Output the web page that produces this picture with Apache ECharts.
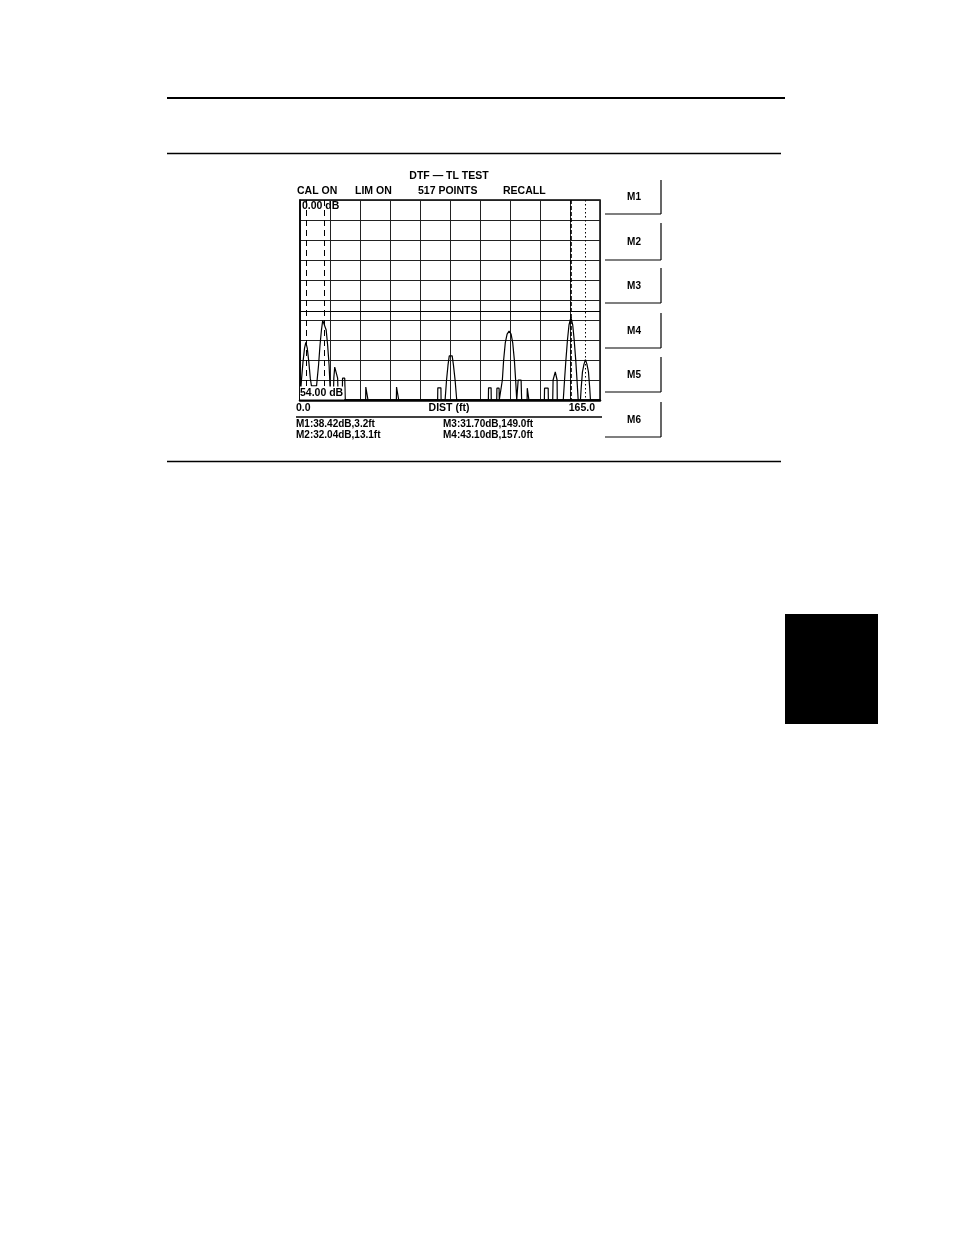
<!DOCTYPE html>
<html>
<head>
<meta charset="utf-8">
<script src="https://cdn.jsdelivr.net/npm/echarts@6/dist/echarts.min.js"></script>
<style>
html,body{margin:0;padding:0;background:#fff;}
#chart{width:954px;height:1235px;}
</style>
</head>
<body>
<div id="chart"></div>
<script>
// ---- data ----
const chartTitle = 'DTF \u2014 TL TEST';
const statusLabels = ['CAL ON', 'LIM ON', '517 POINTS', 'RECALL'];
const buttonLabels = ['M1', 'M2', 'M3', 'M4', 'M5', 'M6'];
const axisTopLabel = '0.00 dB';
const axisBottomLabel = '54.00 dB';
const xStartLabel = '0.0';
const xEndLabel = '165.0';
const xAxisName = 'DIST (ft)';
const markerNames = ['M1', 'M2', 'M3', 'M4'];
const markerDb = [38.42, 32.04, 31.70, 43.10];
const markerDist = [3.2, 13.1, 149.0, 157.0];
const limitDb = 30;

// trace (distance ft, return loss dB)
const traceDist = [0, 0.2, 0.8, 1.65, 2.5, 3.2, 4.0, 4.85, 5.65, 6.3, 9.1,
  9.45, 10.2, 11.0, 11.8, 12.5, 13.1, 13.6, 14.4, 15.2, 16.0, 16.6, 16.9,
  18.3, 18.6, 19.1, 19.6, 20.2, 20.7, 21.0,
  23.2, 23.4, 24.0, 24.6, 24.9,
  36.1, 36.2, 37.3, 37.4,
  53.0, 53.1, 54.2, 54.3,
  75.7, 75.8, 77.5, 77.6,
  79.8, 80.6, 81.4, 82.1, 82.9, 83.7, 84.4, 85.3, 86.2,
  103.6, 103.7, 105.1, 105.2,
  108.2, 108.3, 109.5, 109.6,
  110.6, 111.3, 112.0, 112.9, 113.9, 115.0, 116.1, 117.0, 117.9, 118.6, 119.2,
  119.7, 120.0, 120.8, 121.6, 121.9,
  124.9, 125.0, 125.8, 125.9,
  134.4, 134.5, 136.5, 136.6,
  139.0, 139.2, 140.1, 140.4, 141.0, 141.4, 141.5,
  144.8, 145.5, 146.25, 147.1, 147.95, 149.0, 150.0, 150.8, 151.65, 152.35, 153.0,
  154.25, 154.65, 155.35, 156.2, 157.0, 157.8, 158.65, 159.35, 159.75,
  165];
const traceDb = [54, 54, 48.6, 43.7, 40.0, 38.42, 40.0, 43.7, 48.1, 50.2, 50.2,
  50.2, 44.6, 39.2, 35.1, 32.5, 32.04, 32.5, 35.1, 39.2, 44.6, 51.3, 54,
  54, 48.1, 45.1, 44.6, 45.1, 48.1, 54,
  54, 48.1, 47.7, 48.1, 54,
  54, 50.5, 50.5, 54,
  54, 50.5, 50.5, 54,
  54, 50.7, 50.7, 54,
  54, 48.6, 44.6, 42.1, 42.0, 42.1, 44.6, 48.6, 54,
  54, 50.7, 50.7, 54,
  54, 50.8, 50.8, 54,
  54, 48.6, 43.2, 38.6, 36.2, 35.4, 36.2, 38.6, 43.2, 48.6, 54,
  54, 48.6, 48.2, 48.6, 54,
  54, 50.8, 50.8, 54,
  54, 50.8, 50.8, 54,
  54, 48.6, 48.6, 46.4, 46.3, 48.6, 54,
  54, 48.6, 43.2, 37.8, 33.75, 31.7, 33.75, 37.8, 43.2, 48.6, 54,
  54, 50.8, 46.4, 44.3, 43.1, 44.3, 46.4, 50.8, 54,
  54];

// ---- build ----
const FONT = "'Liberation Sans Narrow', 'Liberation Sans', Arial, sans-serif";
const trace = traceDist.map((d, i) => [d, traceDb[i]]);
const markerStyles = [
  {type: [6, 4], width: 1},
  {type: [6, 4], width: 1},
  {type: [4, 2], width: 1.6},
  {type: [1.5, 2.5], width: 1}
];
function txt(x, y, text, align, size) {
  return {type: 'text', z: 100, style: {x: x, y: y, text: text, fill: '#000',
    font: 'bold ' + (size || 11) + 'px ' + FONT, textAlign: align || 'left', textVerticalAlign: 'middle'}};
}
function ln(x1, y1, x2, y2, w) {
  return {type: 'line', z: 100, shape: {x1: x1, y1: y1, x2: x2, y2: y2}, style: {stroke: '#000', lineWidth: w || 1}};
}
const graphics = [];
// page rules and tab
graphics.push(ln(167, 98, 785, 98, 2));
graphics.push(ln(167, 153.5, 781, 153.5, 1.5));
graphics.push(ln(167, 461.5, 781, 461.5, 1.5));
graphics.push({type: 'rect', z: 100, shape: {x: 785, y: 614, width: 93, height: 110}, style: {fill: '#000'}});
// header texts
graphics.push(txt(449, 176, chartTitle, 'center', 10.5));
const statusX = [297, 355, 418, 503];
statusLabels.forEach((s, i) => graphics.push(txt(statusX[i], 191, s, 'left', 10.5)));
// axis texts
graphics.push(txt(302, 206, axisTopLabel, 'left', 10.5));
graphics.push({type: 'text', z: 100, style: {x: 300, y: 393, text: axisBottomLabel, fill: '#000',
  font: 'bold 10.5px ' + FONT, textAlign: 'left', textVerticalAlign: 'middle', backgroundColor: '#fff', padding: [1, 1, 1, 0]}});
graphics.push(txt(296, 408, xStartLabel, 'left', 10.5));
graphics.push(txt(449, 408, xAxisName, 'center', 10.5));
graphics.push(txt(595, 408, xEndLabel, 'right', 10.5));
graphics.push(ln(296, 417, 602, 417, 1.5));
// marker readouts
const readX = [296, 296, 443, 443];
const readY = [424, 435, 424, 435];
markerNames.forEach((m, i) => {
  graphics.push(txt(readX[i], readY[i], m + ':' + markerDb[i].toFixed(2) + 'dB,' + markerDist[i].toFixed(1) + 'ft', 'left', 10));
});
// soft keys
const btnTop = [180, 223, 268, 313, 357, 402];
const btnBot = [214, 260, 303, 348, 392, 437];
buttonLabels.forEach((b, i) => {
  graphics.push(ln(661, btnTop[i], 661, btnBot[i], 1.2));
  graphics.push(ln(605, btnBot[i], 661, btnBot[i], 1.2));
  graphics.push(txt(634, (btnTop[i] + btnBot[i]) / 2 + 0.5, b, 'center', 10));
});

const chart = echarts.init(document.getElementById('chart'), null, {renderer: 'canvas'});
chart.setOption({
  animation: false,
  backgroundColor: '#fff',
  grid: {left: 300, top: 200, width: 300, height: 200, show: true, borderColor: '#000', borderWidth: 1.5, backgroundColor: 'transparent'},
  xAxis: {
    type: 'value', min: 0, max: 165, interval: 16.5,
    axisLine: {show: true, onZero: false, lineStyle: {color: '#000', width: 2.5}},
    axisTick: {show: false}, axisLabel: {show: false},
    splitLine: {show: true, lineStyle: {color: '#222', width: 1}}
  },
  yAxis: {
    type: 'value', min: 0, max: 54, interval: 5.4, inverse: true,
    axisLine: {show: true, lineStyle: {color: '#000', width: 1.5}},
    axisTick: {show: false}, axisLabel: {show: false},
    splitLine: {show: true, lineStyle: {color: '#222', width: 1}}
  },
  series: [{
    type: 'line',
    data: trace,
    showSymbol: false,
    symbol: 'none',
    lineStyle: {color: '#000', width: 1.2},
    z: 5,
    markLine: {
      silent: true,
      symbol: 'none',
      label: {show: false},
      data: markerDist.map((d, i) => ({xAxis: d, lineStyle: {color: '#000', type: markerStyles[i].type, width: markerStyles[i].width}}))
        .concat([{yAxis: limitDb, lineStyle: {color: '#000', type: 'solid', width: 1}}])
    }
  }],
  graphic: graphics
});
</script>
</body>
</html>
